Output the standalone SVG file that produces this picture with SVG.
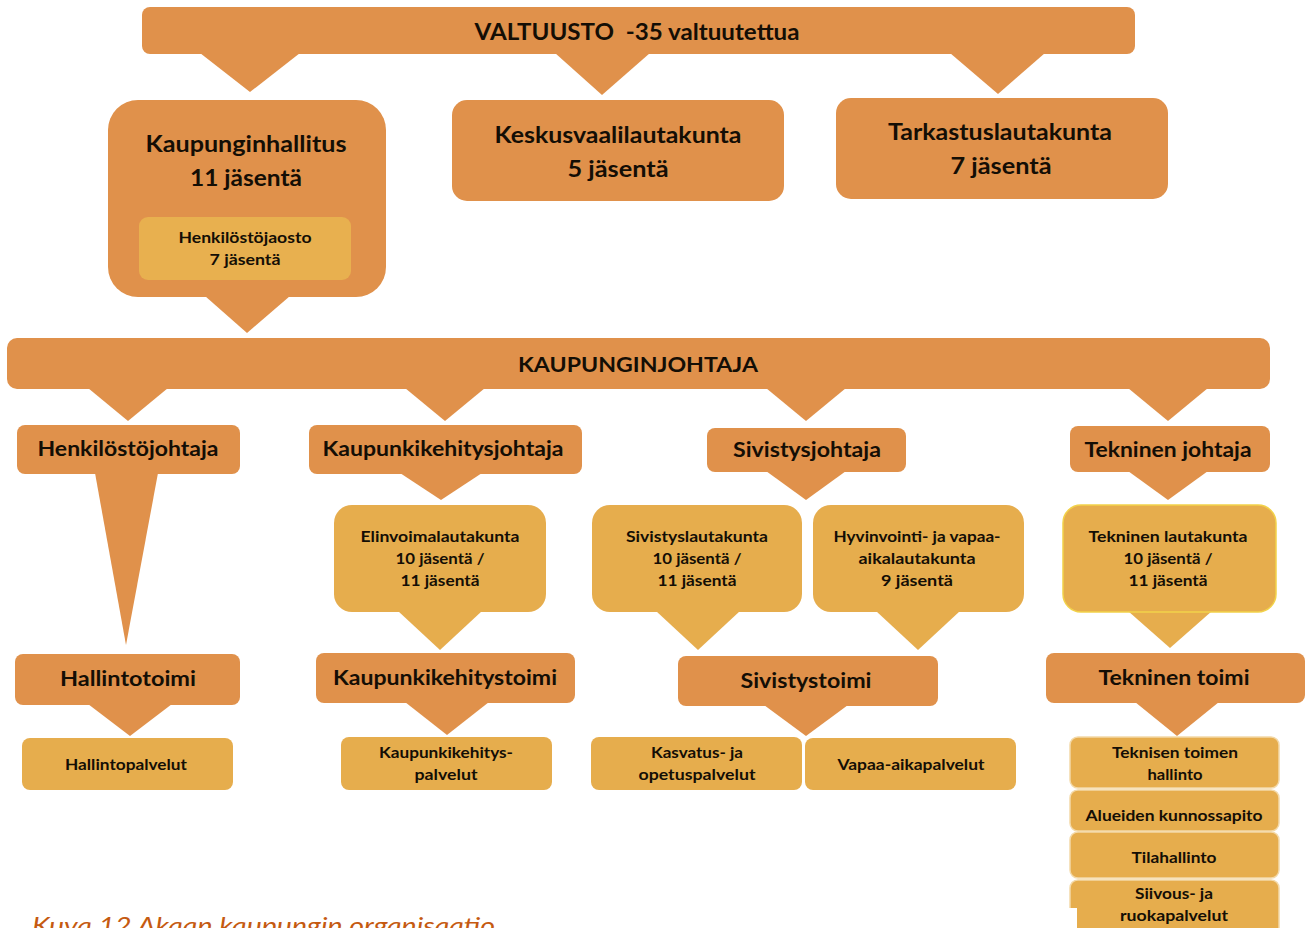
<svg xmlns="http://www.w3.org/2000/svg" width="1307" height="928" viewBox="0 0 1307 928">
<style>
.d{fill:#E0914B}
.l{fill:#E6AD4D}
.ls{fill:#E6AD4D;stroke:#F3D9A8;stroke-width:1.5}
.t{font-family:Lato,"Open Sans","Liberation Sans",sans-serif;font-weight:bold;fill:#140e05;text-anchor:middle}
.b{font-size:22px}
.m{font-size:20px}
.s{font-size:16px}
.cap{font-family:Lato,"Open Sans","Liberation Sans",sans-serif;font-style:italic;font-size:24px;fill:#C55A11}
</style>
<rect width="1307" height="928" fill="#ffffff"/>
<g id="connectors" class="d">
<polygon points="200,53 300,53 250,92"/>
<polygon points="555,53 650,53 602,95"/>
<polygon points="950,53 1045,53 998,94"/>
<polygon points="205,296 290,296 247,333"/>
<polygon points="88,388 168,388 128,421"/>
<polygon points="405,388 485,388 445,421"/>
<polygon points="766,388 846,388 806,421"/>
<polygon points="1128,388 1208,388 1168,421"/>
<polygon points="95,473 158,473 126,645"/>
<polygon points="400,473 482,473 441,500"/>
<polygon points="766,471 846,471 806,500"/>
<polygon points="1128,471 1208,471 1168,500"/>
<polygon class="l" points="398,611 482,611 440,650"/>
<polygon class="l" points="656,611 740,611 698,650"/>
<polygon class="l" points="876,611 960,611 918,650"/>
<polygon class="l" points="1128,611 1212,611 1170,648"/>
<polygon points="88,704 172,704 130,736"/>
<polygon points="405,702 489,702 447,735"/>
<polygon points="764,705 848,705 806,736"/>
<polygon points="1135,702 1219,702 1177,736"/>
</g>
<g id="valtuusto">
<rect class="d" x="142" y="7" width="993" height="47" rx="8"/>
<text class="t b" x="637" y="40" textLength="325" lengthAdjust="spacingAndGlyphs">VALTUUSTO&#160; -35 valtuutettua</text>
</g>
<g id="kaupunginhallitus">
<rect class="d" x="108" y="100" width="278" height="197" rx="30"/>
<text class="t b" x="246" y="152" textLength="201" lengthAdjust="spacingAndGlyphs">Kaupunginhallitus</text>
<text class="t b" x="246" y="186" textLength="112" lengthAdjust="spacingAndGlyphs">11 jäsentä</text>
</g>
<g id="henkilostojaosto">
<rect x="139" y="217" width="212" height="63" rx="9" fill="#E8B04F"/>
<text class="t s" x="245" y="243" textLength="133" lengthAdjust="spacingAndGlyphs">Henkilöstöjaosto</text>
<text class="t s" x="245" y="265" textLength="71" lengthAdjust="spacingAndGlyphs">7 jäsentä</text>
</g>
<g id="keskusvaalilautakunta">
<rect class="d" x="452" y="100" width="332" height="101" rx="15"/>
<text class="t b" x="618" y="143" textLength="247" lengthAdjust="spacingAndGlyphs">Keskusvaalilautakunta</text>
<text class="t b" x="618" y="177" textLength="101" lengthAdjust="spacingAndGlyphs">5 jäsentä</text>
</g>
<g id="tarkastuslautakunta">
<rect class="d" x="836" y="98" width="332" height="101" rx="15"/>
<text class="t b" x="1000" y="140" textLength="224" lengthAdjust="spacingAndGlyphs">Tarkastuslautakunta</text>
<text class="t b" x="1001" y="174" textLength="101" lengthAdjust="spacingAndGlyphs">7 jäsentä</text>
</g>
<g id="kaupunginjohtaja">
<rect class="d" x="7" y="338" width="1263" height="51" rx="10"/>
<text class="t m" x="638" y="372" textLength="240" lengthAdjust="spacingAndGlyphs">KAUPUNGINJOHTAJA</text>
</g>
<g id="henkilostojohtaja">
<rect class="d" x="17" y="425" width="223" height="49" rx="8"/>
<text class="t m" x="128" y="456" textLength="181" lengthAdjust="spacingAndGlyphs">Henkilöstöjohtaja</text>
</g>
<g id="kaupunkikehitysjohtaja">
<rect class="d" x="309" y="425" width="273" height="49" rx="8"/>
<text class="t m" x="443" y="456" textLength="241" lengthAdjust="spacingAndGlyphs">Kaupunkikehitysjohtaja</text>
</g>
<g id="sivistysjohtaja">
<rect class="d" x="707" y="428" width="199" height="44" rx="8"/>
<text class="t m" x="807" y="457" textLength="148" lengthAdjust="spacingAndGlyphs">Sivistysjohtaja</text>
</g>
<g id="tekninenjohtaja">
<rect class="d" x="1070" y="426" width="200" height="46" rx="8"/>
<text class="t m" x="1168" y="457" textLength="167" lengthAdjust="spacingAndGlyphs">Tekninen johtaja</text>
</g>
<g id="elinvoimalautakunta">
<rect class="l" x="334" y="505" width="212" height="107" rx="18"/>
<text class="t s" x="440" y="542" textLength="159" lengthAdjust="spacingAndGlyphs">Elinvoimalautakunta</text>
<text class="t s" x="440" y="564" textLength="89" lengthAdjust="spacingAndGlyphs">10 jäsentä /</text>
<text class="t s" x="440" y="586" textLength="79" lengthAdjust="spacingAndGlyphs">11 jäsentä</text>
</g>
<g id="sivistyslautakunta">
<rect class="l" x="592" y="505" width="210" height="107" rx="18"/>
<text class="t s" x="697" y="542" textLength="142" lengthAdjust="spacingAndGlyphs">Sivistyslautakunta</text>
<text class="t s" x="697" y="564" textLength="89" lengthAdjust="spacingAndGlyphs">10 jäsentä /</text>
<text class="t s" x="697" y="586" textLength="79" lengthAdjust="spacingAndGlyphs">11 jäsentä</text>
</g>
<g id="hyvinvointilautakunta">
<rect class="l" x="813" y="505" width="211" height="107" rx="18"/>
<text class="t s" x="917" y="542" textLength="167" lengthAdjust="spacingAndGlyphs">Hyvinvointi- ja vapaa-</text>
<text class="t s" x="917" y="564" textLength="117" lengthAdjust="spacingAndGlyphs">aikalautakunta</text>
<text class="t s" x="917" y="586" textLength="72" lengthAdjust="spacingAndGlyphs">9 jäsentä</text>
</g>
<g id="tekninenlautakunta">
<rect class="l" x="1063" y="505" width="213" height="107" rx="18" stroke="#F2D24A" stroke-width="1.5"/>
<text class="t s" x="1168" y="542" textLength="159" lengthAdjust="spacingAndGlyphs">Tekninen lautakunta</text>
<text class="t s" x="1168" y="564" textLength="89" lengthAdjust="spacingAndGlyphs">10 jäsentä /</text>
<text class="t s" x="1168" y="586" textLength="79" lengthAdjust="spacingAndGlyphs">11 jäsentä</text>
</g>
<g id="hallintotoimi">
<rect class="d" x="15" y="654" width="225" height="51" rx="8"/>
<text class="t m" x="128" y="686" textLength="136" lengthAdjust="spacingAndGlyphs">Hallintotoimi</text>
</g>
<g id="kaupunkikehitystoimi">
<rect class="d" x="316" y="653" width="259" height="50" rx="8"/>
<text class="t m" x="445" y="685" textLength="224" lengthAdjust="spacingAndGlyphs">Kaupunkikehitystoimi</text>
</g>
<g id="sivistystoimi">
<rect class="d" x="678" y="656" width="260" height="50" rx="8"/>
<text class="t m" x="806" y="688" textLength="131" lengthAdjust="spacingAndGlyphs">Sivistystoimi</text>
</g>
<g id="tekninentoimi">
<rect class="d" x="1046" y="653" width="259" height="50" rx="8"/>
<text class="t m" x="1174" y="685" textLength="151" lengthAdjust="spacingAndGlyphs">Tekninen toimi</text>
</g>
<g id="hallintopalvelut">
<rect class="l" x="22" y="738" width="211" height="52" rx="8"/>
<text class="t s" x="126" y="770" textLength="122" lengthAdjust="spacingAndGlyphs">Hallintopalvelut</text>
</g>
<g id="kaupunkikehityspalvelut">
<rect class="l" x="341" y="737" width="211" height="53" rx="8"/>
<text class="t s" x="446" y="758" textLength="134" lengthAdjust="spacingAndGlyphs">Kaupunkikehitys-</text>
<text class="t s" x="446" y="780" textLength="63" lengthAdjust="spacingAndGlyphs">palvelut</text>
</g>
<g id="kasvatuspalvelut">
<rect class="l" x="591" y="737" width="211" height="53" rx="8"/>
<text class="t s" x="697" y="758" textLength="92" lengthAdjust="spacingAndGlyphs">Kasvatus- ja</text>
<text class="t s" x="697" y="780" textLength="117" lengthAdjust="spacingAndGlyphs">opetuspalvelut</text>
</g>
<g id="vapaaaikapalvelut">
<rect class="l" x="805" y="738" width="211" height="52" rx="8"/>
<text class="t s" x="911" y="770" textLength="147" lengthAdjust="spacingAndGlyphs">Vapaa-aikapalvelut</text>
</g>
<g id="teknisentoimenhallinto">
<rect class="ls" x="1070" y="737" width="209" height="51" rx="8"/>
<text class="t s" x="1175" y="758" textLength="126" lengthAdjust="spacingAndGlyphs">Teknisen toimen</text>
<text class="t s" x="1175" y="780" textLength="55" lengthAdjust="spacingAndGlyphs">hallinto</text>
</g>
<g id="alueidenkunnossapito">
<rect class="ls" x="1070" y="790" width="209" height="41" rx="8"/>
<text class="t s" x="1174" y="821" textLength="177" lengthAdjust="spacingAndGlyphs">Alueiden kunnossapito</text>
</g>
<g id="tilahallinto">
<rect class="ls" x="1070" y="832" width="209" height="46" rx="8"/>
<text class="t s" x="1174" y="863" textLength="85" lengthAdjust="spacingAndGlyphs">Tilahallinto</text>
</g>
<g id="siivouspalvelut">
<rect class="ls" x="1070" y="880" width="209" height="56" rx="8"/>
<text class="t s" x="1174" y="899" textLength="78" lengthAdjust="spacingAndGlyphs">Siivous- ja</text>
<text class="t s" x="1174" y="921" textLength="108" lengthAdjust="spacingAndGlyphs">ruokapalvelut</text>
</g>
<rect x="1040" y="908" width="37" height="20" fill="#ffffff"/>
<text class="cap" x="32" y="934" textLength="463" lengthAdjust="spacingAndGlyphs">Kuva 12 Akaan kaupungin organisaatio</text>
</svg>
